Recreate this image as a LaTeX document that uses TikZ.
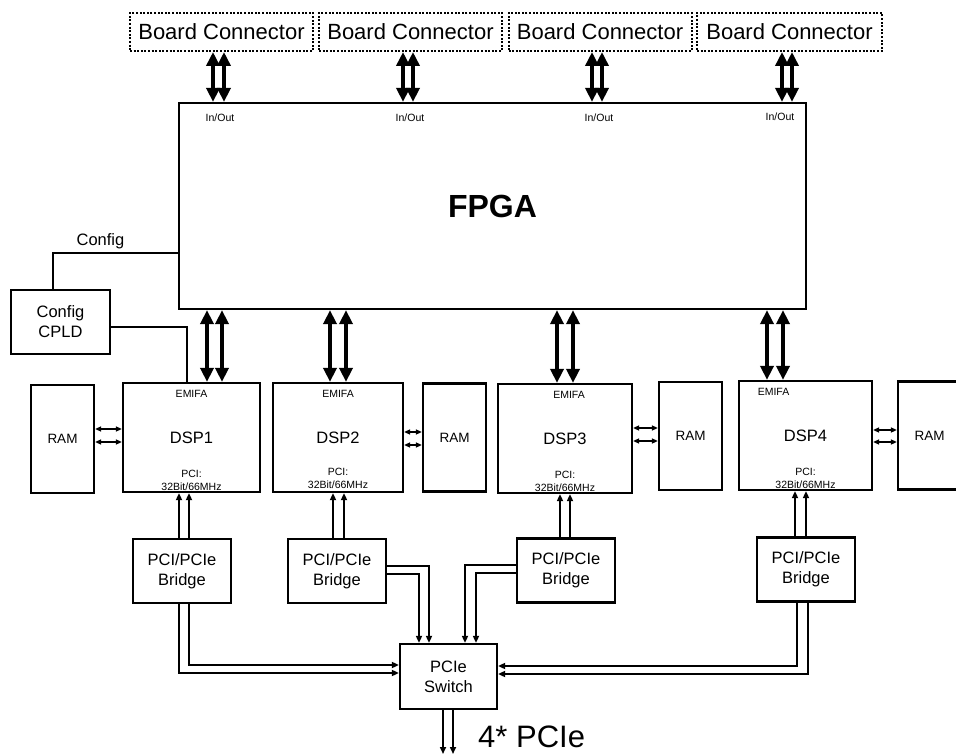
\documentclass[tikz,border=0pt]{standalone}
\usepackage{fontspec}
\setmainfont{Liberation Sans}
\usetikzlibrary{arrows.meta}
\tikzset{
  blk/.style={draw, line width=2.2pt, inner sep=0pt, align=center, font=\fontsize{16.5}{20}\selectfont},
  ramblk/.style={blk, minimum width=63pt, minimum height=108pt, font=\fontsize{13.5}{16}\selectfont},
  dspblk/.style={blk, minimum height=109pt},
  bridgeblk/.style={blk, minimum width=98pt, minimum height=64pt},
  boardconn/.style={draw, line width=2pt, dash pattern=on 2pt off 1.6pt, minimum width=183pt, minimum height=38pt, inner sep=0pt, font=\fontsize{22}{26}\selectfont},
  smalltxt/.style={font=\fontsize{10.5}{13.5}\selectfont, inner sep=1pt, align=center},
  bus/.style={line width=3.8pt, {Triangle[length=14pt,width=13pt]}-{Triangle[length=14pt,width=13pt]}},
  pcilink/.style={line width=1.6pt, -{Triangle[length=7pt,width=6pt]}},
  ramlink/.style={line width=1.4pt, {Triangle[length=6pt,width=5pt]}-{Triangle[length=6pt,width=5pt]}},
  cfgline/.style={line width=1.1pt},
}
\begin{document}
\begin{tikzpicture}[x=1pt,y=-1pt]
  \useasboundingbox (0,0) rectangle (956,754);
  % board connectors and FPGA
  \node[boardconn] (conn1) at (221.5,32) {Board Connector};
  \node[boardconn] (conn2) at (410.5,32) {Board Connector};
  \node[boardconn] (conn3) at (600,32) {Board Connector};
  \node[boardconn, minimum width=185pt] (conn4) at (789.5,32) {Board Connector};
  \node[blk, minimum width=627pt, minimum height=206pt, font=\fontsize{32}{36}\selectfont\bfseries] (fpga) at (492.5,206) {FPGA};
  \node[smalltxt] (io1) at (220,118) {In/Out};
  \node[smalltxt] (io2) at (410,118) {In/Out};
  \node[smalltxt] (io3) at (599,118) {In/Out};
  \node[smalltxt] (io4) at (780,117) {In/Out};
  \draw[bus] (213,0 |- conn1.south) -- (213,0 |- fpga.north);
  \draw[bus] (224,0 |- conn1.south) -- (224,0 |- fpga.north);
  \draw[bus] (403,0 |- conn2.south) -- (403,0 |- fpga.north);
  \draw[bus] (413,0 |- conn2.south) -- (413,0 |- fpga.north);
  \draw[bus] (592,0 |- conn3.south) -- (592,0 |- fpga.north);
  \draw[bus] (602,0 |- conn3.south) -- (602,0 |- fpga.north);
  \draw[bus] (782,0 |- conn4.south) -- (782,0 |- fpga.north);
  \draw[bus] (792,0 |- conn4.south) -- (792,0 |- fpga.north);
  % config
  \node[blk, minimum width=99pt, minimum height=64pt] (cpld) at (60.5,322) {Config\\CPLD};
  \draw[cfgline] (53,0 |- cpld.north) |- (fpga.west |- 0,253) node[pos=0.69, above, font=\fontsize{16.5}{20}\selectfont] (cfgtxt) {Config};
  % DSPs and RAMs
  \node[dspblk, minimum width=137pt] (dsp1) at (191.5,437.5) {DSP1};
  \node[dspblk, minimum width=130pt] (dsp2) at (338,437.5) {DSP2};
  \node[dspblk, minimum width=134pt] (dsp3) at (565,438.5) {DSP3};
  \node[dspblk, minimum width=133pt] (dsp4) at (805.5,435.5) {DSP4};
  \node[smalltxt] (emifa1) at ([yshift=-12pt]dsp1.north) {EMIFA};
  \node[smalltxt] (emifa2) at ([yshift=-12pt]dsp2.north) {EMIFA};
  \node[smalltxt] (emifa3) at ([xshift=4pt,yshift=-12pt]dsp3.north) {EMIFA};
  \node[smalltxt] (emifa4) at ([xshift=-32pt,yshift=-12pt]dsp4.north) {EMIFA};
  \node[smalltxt, anchor=south] (pci1) at ([yshift=1pt]dsp1.south) {PCI:\\32Bit/66MHz};
  \node[smalltxt, anchor=south] (pci2) at ([yshift=3pt]dsp2.south) {PCI:\\32Bit/66MHz};
  \node[smalltxt, anchor=south] (pci3) at ([yshift=1pt]dsp3.south) {PCI:\\32Bit/66MHz};
  \node[smalltxt, anchor=south] (pci4) at ([yshift=1pt]dsp4.south) {PCI:\\32Bit/66MHz};
  \node[ramblk] (ram1) at (62.5,439) {RAM};
  \node[ramblk] (ram2) at (454.5,437.5) {RAM};
  \node[ramblk] (ram3) at (690.5,436) {RAM};
  \node[ramblk] (ram4) at (929.5,435.5) {RAM};
  \draw[cfgline] (cpld.east |- 0,327) -| (187,0 |- dsp1.north);
  \draw[bus] (207,0 |- fpga.south) -- (207,0 |- dsp1.north);
  \draw[bus] (222,0 |- fpga.south) -- (222,0 |- dsp1.north);
  \draw[bus] (330,0 |- fpga.south) -- (330,0 |- dsp2.north);
  \draw[bus] (346,0 |- fpga.south) -- (346,0 |- dsp2.north);
  \draw[bus] (557,0 |- fpga.south) -- (557,0 |- dsp3.north);
  \draw[bus] (573,0 |- fpga.south) -- (573,0 |- dsp3.north);
  \draw[bus] (767,0 |- fpga.south) -- (767,0 |- dsp4.north);
  \draw[bus] (783,0 |- fpga.south) -- (783,0 |- dsp4.north);
  \draw[ramlink] (ram1.east |- 0,429) -- (dsp1.west |- 0,429);
  \draw[ramlink] (ram1.east |- 0,442) -- (dsp1.west |- 0,442);
  \draw[ramlink] (dsp2.east |- 0,432) -- (ram2.west |- 0,432);
  \draw[ramlink] (dsp2.east |- 0,445) -- (ram2.west |- 0,445);
  \draw[ramlink] (dsp3.east |- 0,428) -- (ram3.west |- 0,428);
  \draw[ramlink] (dsp3.east |- 0,441) -- (ram3.west |- 0,441);
  \draw[ramlink] (dsp4.east |- 0,430) -- (ram4.west |- 0,430);
  \draw[ramlink] (dsp4.east |- 0,442) -- (ram4.west |- 0,442);
  % bridges and switch
  \node[bridgeblk] (br1) at (182,571) {PCI/PCIe\\Bridge};
  \node[bridgeblk] (br2) at (337,571) {PCI/PCIe\\Bridge};
  \node[bridgeblk] (br3) at (566,570.5) {PCI/PCIe\\Bridge};
  \node[bridgeblk] (br4) at (806,569.5) {PCI/PCIe\\Bridge};
  \node[blk, minimum width=97pt, minimum height=65pt] (sw) at (448.5,676.5) {PCIe\\Switch};
  \draw[pcilink] (179,0 |- br1.north) -- (179,0 |- dsp1.south);
  \draw[pcilink] (189,0 |- br1.north) -- (189,0 |- dsp1.south);
  \draw[pcilink] (333,0 |- br2.north) -- (333,0 |- dsp2.south);
  \draw[pcilink] (344,0 |- br2.north) -- (344,0 |- dsp2.south);
  \draw[pcilink] (560,0 |- br3.north) -- (560,0 |- dsp3.south);
  \draw[pcilink] (570,0 |- br3.north) -- (570,0 |- dsp3.south);
  \draw[pcilink] (795,0 |- br4.north) -- (795,0 |- dsp4.south);
  \draw[pcilink] (806,0 |- br4.north) -- (806,0 |- dsp4.south);
  \draw[pcilink] (179,0 |- br1.south) |- (sw.west |- 0,673);
  \draw[pcilink] (189,0 |- br1.south) |- (sw.west |- 0,665);
  \draw[pcilink] (br2.east |- 0,566) -| (429,0 |- sw.north);
  \draw[pcilink] (br2.east |- 0,574) -| (419,0 |- sw.north);
  \draw[pcilink] (br3.west |- 0,565) -| (465,0 |- sw.north);
  \draw[pcilink] (br3.west |- 0,573) -| (476,0 |- sw.north);
  \draw[pcilink] (797,0 |- br4.south) |- (sw.east |- 0,666);
  \draw[pcilink] (808,0 |- br4.south) |- (sw.east |- 0,674);
  % PCIe out
  \coordinate (out1) at (443,754);
  \coordinate (out2) at (453,754);
  \draw[pcilink] (out1 |- sw.south) -- (out1);
  \draw[pcilink] (out2 |- sw.south) -- (out2);
  \node[anchor=west, inner sep=0pt, font=\fontsize{31}{36}\selectfont] (pcieout) at (478,737) {4* PCIe};
\end{tikzpicture}
\end{document}
